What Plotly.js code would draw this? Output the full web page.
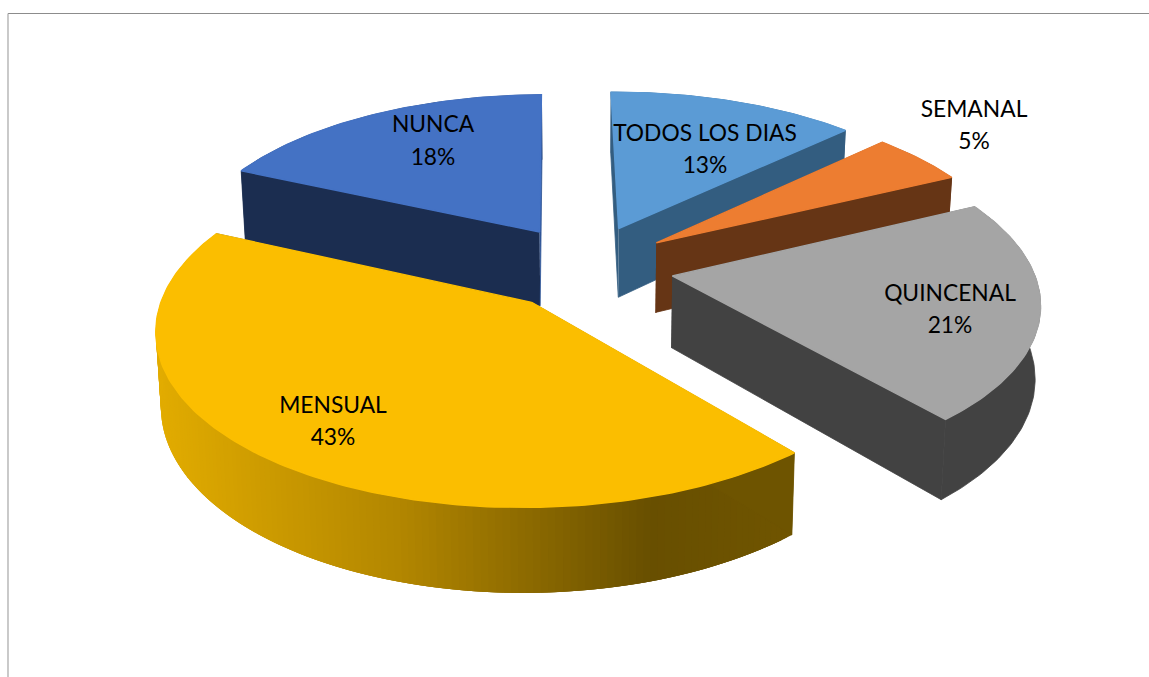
<!DOCTYPE html>
<html>
<head>
<meta charset="utf-8">
<script src="https://cdn.plot.ly/plotly-3.0.1.min.js"></script>
<style>html,body{margin:0;padding:0;background:#fff;overflow:hidden}</style>
</head>
<body>
<div id="chart" style="width:1149px;height:677px"></div>
<script>
const categories = ["TODOS LOS DIAS", "SEMANAL", "QUINCENAL", "MENSUAL", "NUNCA"];
const shares = [13, 5, 21, 43, 18];

const topColors = ["#5B9BD5", "#ED7D31", "#A5A5A5", "#FBBE00", "#4472C4"];
const startFaceColors = ["#335D80", "#69361A", "#424242", "#6E5400", "#1B2D50"];
const endFaceColors = ["#335D80", "#663515", "#424242", "#1B2D50", "#2F5597"];
const rimColors = ["#335D80", "#69361A", "#424242", null, "#1B2D50"];
const depthScale = [1, 1, 1, 1, 1.07];
const paintOrder = [0, 4, 1, 2, 3];
const labelX = [705, 974, 950, 333, 433];
const labelY = [135, 111, 295, 407, 126];
const pctY = [167, 143, 327, 439, 159];

const view = {cx: 586, cy: 267, rx: 360, ry: 165.5, persp: 0.14, depth: 71, shrink: 0.988,
              pullX: 0.243, pullY: 0.26, startDeg: -0.7};

function project(u, v, low, scale) {
  const s = 1 / (1 + view.persp * v);
  let x = view.rx * u * s, y = view.cy - view.ry * v * s;
  if (low) { x *= view.shrink; y += view.depth * scale * s; }
  return [view.cx + x, y];
}
function polygon(pts, color, w) {
  return {type: "scatter", mode: "lines", x: pts.map(p => p[0]), y: pts.map(p => p[1]),
    fill: "toself", fillcolor: color, line: {color: color, width: w},
    hoverinfo: "skip", showlegend: false};
}
function mix(a, b, t) {
  return "rgb(" + a.map((c, i) => Math.round(c + (b[i] - c) * t)).join(",") + ")";
}
const goldStops = [[155, [226, 172, 0]], [400, [178, 134, 0]], [650, [104, 79, 0]], [800, [112, 85, 0]]];
function gold(x) {
  for (let i = 1; i < goldStops.length; i++) {
    if (x <= goldStops[i][0]) {
      const a = goldStops[i - 1], b = goldStops[i];
      return mix(a[1], b[1], Math.max(0, (x - a[0]) / (b[0] - a[0])));
    }
  }
  return mix(goldStops[3][1], goldStops[3][1], 0);
}

const total = shares.reduce((a, b) => a + b, 0);
const starts = [];
shares.reduce((acc, s, i) => { starts[i] = acc; return acc + s; }, 0);
const traces = [];

paintOrder.forEach(i => {
  const a0 = view.startDeg + starts[i] / total * 360;
  const a1 = a0 + shares[i] / total * 360;
  const mid = (a0 + a1) / 2 * Math.PI / 180;
  const ou = view.pullX * Math.sin(mid), ov = view.pullY * Math.cos(mid);
  const rim = [];
  const n = Math.max(12, Math.round((a1 - a0)));
  for (let k = 0; k <= n; k++) {
    const t = (a0 + (a1 - a0) * k / n) * Math.PI / 180;
    rim.push([ou + Math.sin(t), ov + Math.cos(t)]);
  }
  const top = rim.map(p => project(p[0], p[1], false, 1));
  const low = rim.map(p => project(p[0], p[1], true, depthScale[i]));
  const apexT = project(ou, ov, false, 1), apexL = project(ou, ov, true, depthScale[i]);

  // outer curved wall
  if (rimColors[i]) {
    traces.push(polygon(top.concat(low.slice().reverse()), rimColors[i], 0.8));
  } else {
    // each band overlaps its neighbour so no seams show
    for (let k = 0; k < n; k++) {
      const e = Math.min(n, k + 3);
      const c = gold((top[k][0] + top[k + 1][0]) / 2);
      const upper = top.slice(k, e + 1), lower = low.slice(k, e + 1).reverse();
      traces.push(polygon(upper.concat(lower), c, 0));
    }
  }
  // radial faces
  traces.push(polygon([apexT, top[0], low[0], apexL], startFaceColors[i], 0.8));
  traces.push(polygon([apexT, top[n], low[n], apexL], endFaceColors[i], 0.8));
  // top face
  traces.push(polygon([apexT].concat(top).concat([apexT]), topColors[i], 1.4));
});

const textFont = {family: "Lato, Carlito, 'Open Sans', sans-serif", size: 22.8, color: "#000000"};
traces.push({type: "scatter", mode: "text", x: labelX, y: labelY, text: categories,
  textfont: textFont, textposition: "middle center", hoverinfo: "skip", showlegend: false});
traces.push({type: "scatter", mode: "text", x: labelX, y: pctY, text: shares.map(s => s + "%"),
  textfont: textFont, textposition: "middle center", hoverinfo: "skip", showlegend: false});

const layout = {
  width: 1149, height: 677, margin: {l: 0, r: 0, t: 0, b: 0},
  paper_bgcolor: "#ffffff", plot_bgcolor: "#ffffff", showlegend: false,
  xaxis: {range: [0, 1149], visible: false, fixedrange: true},
  yaxis: {range: [677, 0], visible: false, fixedrange: true},
  shapes: [
    {type: "line", xref: "paper", yref: "paper", x0: 8 / 1149, x1: 1, y0: 1 - 13.5 / 677, y1: 1 - 13.5 / 677,
     line: {color: "#8C8C8C", width: 1.2}},
    {type: "line", xref: "paper", yref: "paper", x0: 8 / 1149, x1: 8 / 1149, y0: 1 - 13.5 / 677, y1: 0,
     line: {color: "#A6A6A6", width: 1.2}}
  ]
};
Plotly.newPlot("chart", traces, layout, {displayModeBar: false, staticPlot: true});
</script>
</body>
</html>
